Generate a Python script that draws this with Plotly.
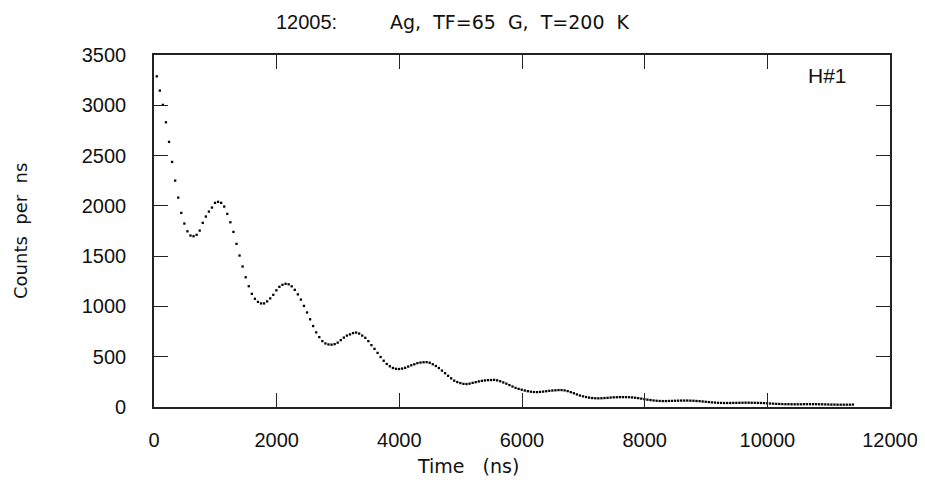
import numpy as np
import plotly.graph_objects as go

# Time bins (ns): 50 ns bins starting at 45 ns
time_ns = np.arange(45, 11400, 50)

counts = [
    3288, 3146, 3004, 2831, 2636, 2437, 2251, 2082, 1930, 1824,
    1747, 1705, 1698, 1712, 1754, 1831, 1894, 1943, 1983, 2030,
    2040, 2030, 1993, 1920, 1837, 1741, 1622, 1506, 1397, 1290,
    1201, 1125, 1076, 1045, 1030, 1030, 1050, 1080, 1115, 1160,
    1195, 1215, 1225, 1220, 1200, 1165, 1120, 1068, 1005, 940,
    872, 805, 742, 695, 655, 632, 622, 620, 625, 640,
    665, 690, 710, 722, 735, 740, 730, 710, 688, 655,
    615, 578, 538, 497, 460, 428, 405, 388, 380, 378,
    382, 390, 402, 415, 425, 436, 442, 445, 446, 440,
    425, 408, 388, 362, 336, 310, 285, 262, 248, 238,
    230, 228, 232, 240, 247, 254, 260, 264, 267, 268,
    270, 265, 256, 244, 232, 218, 204, 190, 180, 172,
    164, 157, 152, 149, 148, 150, 153, 157, 161, 164,
    166, 168, 168, 165, 158, 148, 137, 125, 114, 106,
    99, 93, 89, 87, 86, 87, 89, 91, 94, 96,
    97, 98, 98, 98, 97, 95, 92, 88, 83, 78,
    73, 69, 65, 62, 60, 59, 59, 60, 61, 62,
    63, 64, 64, 64, 63, 62, 60, 58, 55, 52,
    49, 46, 44, 42, 41, 40, 40, 40, 41, 41,
    42, 42, 43, 43, 42, 42, 41, 40, 39, 37,
    35, 33, 31, 30, 29, 28, 28, 27, 27, 27,
    27, 28, 28, 28, 28, 28, 27, 27, 26, 25,
    24, 24, 23, 23, 23, 23, 23, 24,
]

x_ticks = [0, 2000, 4000, 6000, 8000, 10000, 12000]
y_ticks = [0, 500, 1000, 1500, 2000, 2500, 3000, 3500]

run_label = "12005:"
title_text = "Ag,\u00a0 TF=65\u00a0 G,\u00a0 T=200\u00a0 K"
x_title = "Time\u00a0\u00a0 (ns)"
y_title = "Counts\u00a0 per\u00a0 ns"
hist_label = "H#1"

FONT = "Liberation Sans, Arial, sans-serif"
WFONT = "DejaVu Sans, Verdana, sans-serif"
AX = "#222222"
TXT = "#111111"

fig = go.Figure()
fig.add_trace(go.Scatter(
    x=time_ns, y=counts, mode="markers",
    marker=dict(size=2.3, color="black", symbol="square"),
    showlegend=False, hoverinfo="skip", cliponaxis=False,
))

axis_common = dict(
    showgrid=False, zeroline=False, showline=True, linecolor=AX, linewidth=1.6,
    mirror="ticks", ticks="inside", ticklen=14, tickwidth=1.3, tickcolor=AX,
    tickfont=dict(family=FONT, size=20, color=TXT), automargin=False,
)

W = 736.0  # plot-area width in px

# page body has an 8px default margin; figure sized so the frame lands at
# x 154..890, y 55..407 in the 925x484 window
fig.update_layout(
    width=917, height=476,
    margin=dict(l=146, r=35, t=47, b=77),
    paper_bgcolor="white", plot_bgcolor="white",
    xaxis=dict(range=[0, 12000], tickvals=x_ticks,
               ticktext=[str(v) for v in x_ticks], ticklabelstandoff=14,
               **axis_common),
    yaxis=dict(range=[0, 3500], tickvals=y_ticks,
               ticktext=[str(v) for v in y_ticks], ticklabelstandoff=22,
               **axis_common),
    annotations=[
        dict(text=run_label, xref="paper", yref="paper", x=(306 - 154) / W, y=1,
             yshift=33, showarrow=False, xanchor="center", yanchor="middle",
             font=dict(family=FONT, size=20, color=TXT)),
        dict(text=title_text, xref="paper", yref="paper", x=(388 - 154) / W, y=1,
             yshift=33, showarrow=False, xanchor="left", yanchor="middle",
             font=dict(family=WFONT, size=19, color=TXT)),
        dict(text=x_title, xref="paper", yref="paper", x=(468 - 154) / W, y=0,
             yshift=-59, showarrow=False, xanchor="center", yanchor="middle",
             font=dict(family=WFONT, size=19, color=TXT)),
        dict(text=y_title, xref="paper", yref="paper", x=0, y=0.5,
             xshift=-134, showarrow=False, xanchor="center", yanchor="middle",
             textangle=-90, font=dict(family=WFONT, size=18, color=TXT)),
        dict(text=hist_label, xref="paper", yref="paper", x=(827 - 154) / W, y=1,
             yshift=-20, showarrow=False, xanchor="center", yanchor="middle",
             font=dict(family=FONT, size=21, color=TXT)),
    ],
)

fig.write_html("out.html")
